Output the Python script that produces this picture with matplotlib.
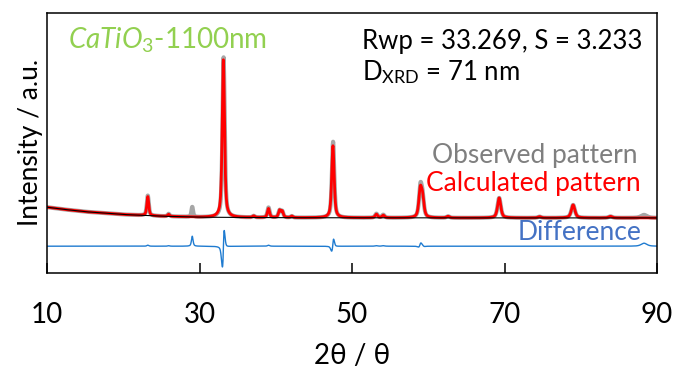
import numpy as np
import matplotlib.pyplot as plt

plt.rcParams['font.family'] = ['Lato', 'DejaVu Sans']
plt.rcParams['mathtext.fontset'] = 'custom'
plt.rcParams['mathtext.rm'] = 'Lato'
plt.rcParams['mathtext.it'] = 'Lato:italic'

# background curve (2theta, intensity)
bg_pos = [10, 12, 15, 20, 25, 30, 40, 60, 90]
bg_int = [65.5, 63.5, 61.0, 58.2, 56.5, 55.5, 55.0, 54.8, 54.8]

# calculated peaks: position, height above background, fwhm
calc_pos = [23.22, 25.95, 33.13, 37.1, 39.05, 40.5, 40.85, 42.1, 47.5, 53.2, 54.1, 58.95, 59.25, 62.6, 69.3, 74.6, 79.0, 83.9]
calc_h = [19, 2, 158, 1.5, 9, 7, 6, 1.5, 72, 3.5, 2.5, 26, 18, 1.5, 20, 1.2, 13, 1.5]
calc_w = [0.3, 0.3, 0.36, 0.35, 0.34, 0.34, 0.34, 0.35, 0.38, 0.4, 0.4, 0.45, 0.45, 0.45, 0.5, 0.5, 0.55, 0.55]

# observed pattern: same reflections + impurity and small misfits
obs_pos = [23.22, 25.95, 29.05, 33.16, 37.1, 39.05, 40.5, 40.85, 42.1, 47.52, 53.2, 54.1, 58.97, 59.25, 62.6, 69.3, 74.6, 79.0, 83.9, 88.3]
obs_h = [20, 2.5, 10, 160, 1.5, 10, 7, 6, 1.5, 76, 4, 3, 29, 18, 1.5, 20, 1.2, 13, 1.5, 3]
obs_w = [0.3, 0.3, 0.25, 0.34, 0.35, 0.34, 0.34, 0.34, 0.35, 0.36, 0.4, 0.4, 0.43, 0.43, 0.45, 0.5, 0.5, 0.55, 0.55, 0.9]

diff_offset = 26.5


def profile(x, pos, h, w):
    y = np.zeros_like(x)
    for p, a, f in zip(pos, h, w):
        g = np.exp(-4 * np.log(2) * ((x - p) / f) ** 2)
        l = 1 / (1 + 4 * ((x - p) / f) ** 2)
        y += a * (0.4 * g + 0.6 * l)
    return y


tt = np.linspace(10, 90, 4001)
bg = np.interp(tt, bg_pos, bg_int)
calc = bg + profile(tt, calc_pos, calc_h, calc_w)
obs = bg + profile(tt, obs_pos, obs_h, obs_w)
diff = obs - calc + diff_offset

fig = plt.figure(figsize=(6.79, 3.76), dpi=100)
ax = fig.add_axes([47 / 679, (376 - 272.7) / 376, 610 / 679, 259.7 / 376])

ax.plot(tt, obs, color='#a6a6a6', lw=3.0)
ax.plot(tt, calc, color='#ff0000', lw=2.0)
ax.plot(tt, bg, color='black', lw=0.8)
ax.plot(tt, diff, color='#1f7bd0', lw=1.0)

ax.set_xlim(10, 90)
ax.set_ylim(0, 259.7)
ax.set_xticks([10, 30, 50, 70, 90])
ax.set_yticks([])
ax.tick_params(axis='x', direction='in', length=7, width=1.1, labelsize=20, pad=21)
for s in ax.spines.values():
    s.set_linewidth(1.1)

ax.set_xlabel('2θ / θ', fontsize=20, labelpad=11)
ax.set_ylabel('Intensity / a.u.', fontsize=19, labelpad=3)

fig.text(68 / 679, 1 - 40 / 376, r'$\mathit{CaTiO_3}$-1100nm', color='#92d050',
         fontsize=20, va='center', ha='left')
fig.text(362 / 679, 1 - 49 / 376, 'Rwp = 33.269, S = 3.233', fontsize=18.5,
         va='baseline', ha='left')
fig.text(362 / 679, 1 - 80 / 376, r'D$_{\mathrm{XRD}}$ = 71 nm', fontsize=18.5,
         va='baseline', ha='left')
fig.text(637 / 679, 1 - 155 / 376, 'Observed pattern', color='#7f7f7f',
         fontsize=19, va='center', ha='right')
fig.text(641 / 679, 1 - 183 / 376, 'Calculated pattern', color='#ff0000',
         fontsize=19, va='center', ha='right')
fig.text(641 / 679, 1 - 232 / 376, 'Difference', color='#4472c4',
         fontsize=19, va='center', ha='right')

fig.savefig('out.png', dpi=100)
